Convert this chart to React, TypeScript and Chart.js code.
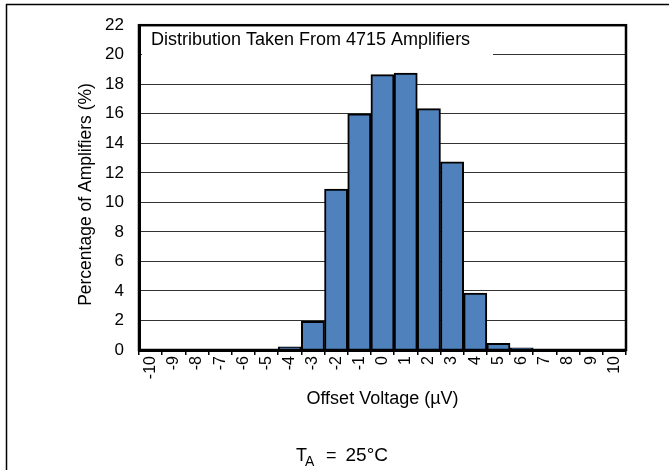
import React, { useEffect, useRef } from 'react';
import { Chart, registerables } from 'chart.js';

Chart.register(...registerables);

const categories = ['-10', '-9', '-8', '-7', '-6', '-5', '-4', '-3', '-2', '-1', '0', '1', '2', '3', '4', '5', '6', '7', '8', '9', '10'];
const percentages = [0, 0, 0, 0, 0, 0.05, 0.22, 1.95, 10.9, 16.0, 18.65, 18.75, 16.35, 12.75, 3.85, 0.45, 0.15, 0.05, 0, 0, 0];
const yMin = 0;
const yMax = 22;
const yStep = 2;
const annotationText = 'Distribution Taken From 4715 Amplifiers';
const xTitle = 'Offset Voltage (µV)';
const yTitle = 'Percentage of Amplifiers (%)';
const condT = 'T';
const condSub = 'A';
const condEq = '=';
const condVal = '25°C';

const FONT = '"Liberation Sans", Arial, sans-serif';

const decorPlugin = {
  id: 'decor',
  afterDraw(chart: any) {
    const { ctx, chartArea: a } = chart;
    ctx.save();
    // plot frame
    ctx.strokeStyle = '#000';
    ctx.lineWidth = 2.5;
    ctx.strokeRect(a.left, a.top, a.right - a.left, a.bottom - a.top);

    // annotation box covering gridline
    ctx.fillStyle = '#fff';
    ctx.fillRect(a.left + 3, a.top + 5, 351, 33);
    ctx.fillStyle = '#000';
    ctx.font = `18px ${FONT}`;
    ctx.textAlign = 'left';
    ctx.textBaseline = 'alphabetic';
    ctx.fillText(annotationText, 151, 45);

    // outer frame lines
    ctx.lineWidth = 1.5;
    ctx.beginPath();
    ctx.moveTo(6, 4.5);
    ctx.lineTo(669, 4.5);
    ctx.moveTo(6.5, 4);
    ctx.lineTo(6.5, 470);
    ctx.stroke();

    // axis titles
    ctx.font = `18px ${FONT}`;
    ctx.textAlign = 'center';
    ctx.textBaseline = 'middle';
    ctx.fillText(xTitle, 382.5, 399);

    ctx.save();
    ctx.translate(86, 194.5);
    ctx.rotate(-Math.PI / 2);
    ctx.font = `17.5px ${FONT}`;
    ctx.fillText(yTitle, 0, 0);
    ctx.restore();

    // condition text
    ctx.textAlign = 'left';
    ctx.textBaseline = 'alphabetic';
    ctx.font = `18px ${FONT}`;
    ctx.fillText(condT, 296, 461);
    ctx.font = `14px ${FONT}`;
    ctx.fillText(condSub, 305, 466);
    ctx.font = `18px ${FONT}`;
    ctx.fillText(condEq, 326, 461);
    ctx.font = `19px ${FONT}`;
    ctx.fillText(condVal, 345.5, 461);
    ctx.restore();
  },
};

export default function App() {
  const ref = useRef<HTMLCanvasElement | null>(null);

  useEffect(() => {
    if (!ref.current) return;
    Chart.defaults.font.family = FONT;
    const chart = new Chart(ref.current, {
      type: 'bar',
      data: {
        labels: categories,
        datasets: [
          {
            data: percentages,
            backgroundColor: '#4F81BD',
            borderColor: '#000',
            borderWidth: 2,
            barPercentage: 1,
            categoryPercentage: 1,
          },
        ],
      },
      options: {
        animation: false,
        responsive: false,
        maintainAspectRatio: false,
        layout: { padding: { left: 0, top: 19, right: 43, bottom: 0 } },
        plugins: { legend: { display: false }, tooltip: { enabled: false } },
        scales: {
          x: {
            type: 'category',
            offset: true,
            grid: {
              display: true,
              drawOnChartArea: false,
              drawTicks: true,
              tickLength: 5,
              color: '#000',
              lineWidth: 1.5,
              offset: true,
            },
            border: { display: true, color: '#000', width: 3 },
            ticks: {
              autoSkip: false,
              minRotation: 90,
              maxRotation: 90,
              color: '#000',
              font: { size: 16 },
              padding: 1,
            },
            afterFit: (s: any) => {
              s.height = 120;
            },
          },
          y: {
            min: yMin,
            max: yMax,
            ticks: { stepSize: yStep, color: '#000', font: { size: 17 }, padding: 15 },
            grid: { color: '#333', lineWidth: 1, drawTicks: false },
            border: { display: true, color: '#000', width: 3 },
            afterFit: (s: any) => {
              s.width = 139;
            },
          },
        },
      },
      plugins: [decorPlugin],
    });
    return () => chart.destroy();
  }, []);

  return (
    <div style={{ position: 'fixed', left: 0, top: 0, width: 669, height: 470, background: '#fff' }}>
      <canvas ref={ref} width={669} height={470} style={{ display: 'block' }} />
    </div>
  );
}
